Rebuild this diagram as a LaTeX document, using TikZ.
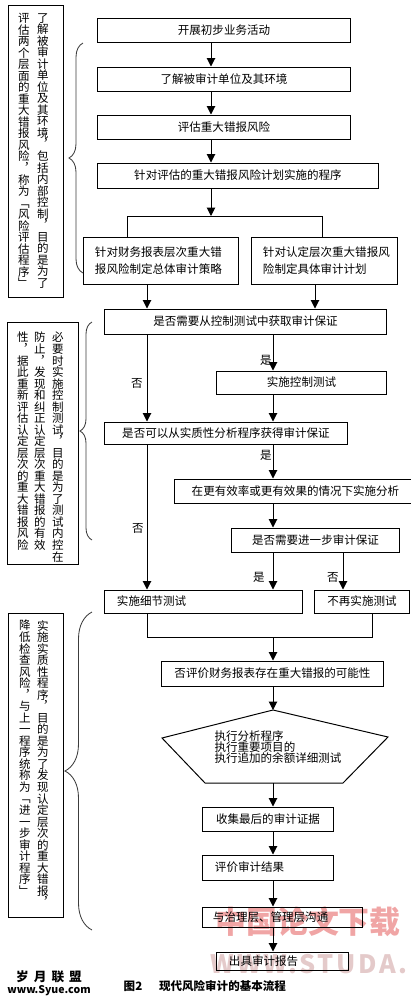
\documentclass[tikz,border=0pt]{standalone}
\usepackage{fontspec}
\setmainfont{Noto Sans CJK SC}
\newfontfamily\vcn[Script=CJK, RawFeature=+vert]{Noto Sans CJK SC}
\usetikzlibrary{arrows.meta, decorations.pathreplacing}
\definecolor{markpink}{RGB}{240,165,165}
\definecolor{markgray}{RGB}{228,202,202}
\definecolor{bracegray}{RGB}{60,60,60}
% one character per line, for the vertical notes
\newcommand\vcolend{}
\newcommand\vcol[1]{\vcolfirst#1\vcolend}
\def\vcolfirst#1{#1\vcolrest}
\def\vcolrest#1{\ifx#1\vcolend\else\\#1\expandafter\vcolrest\fi}

\begin{document}
\begin{tikzpicture}[
        x=0.025cm, y=-0.025cm,
        box/.style={draw, line width=0.7pt, inner sep=0pt, align=center, font=\fontsize{8.2}{12}\selectfont, minimum height=0.6cm},
        lbox/.style={box, align=left, inner xsep=0.3cm},
        arrow/.style={-{Triangle[length=6pt,width=6pt]}, line width=0.7pt},
        line/.style={line width=0.7pt},
        lab/.style={inner sep=0pt, font=\fontsize{8.2}{10}\selectfont},
        vcolumn/.style={anchor=north, inner sep=0pt, align=center, font=\vcn\fontsize{8.2}{8.2}\selectfont},
        curly/.style={decorate, decoration={brace, amplitude=#1}, line width=0.6pt, bracegray}
    ]
        \useasboundingbox (0,0) rectangle (410,1001);

        % watermark
        \node[text=markpink, font=\fontsize{22}{24}\bfseries] (wm1) at (308,922) {中国论文下载};
        \node[text=markgray, font=\fontsize{18}{20}\bfseries\addfontfeatures{LetterSpace=10}] (wm2) at (309,964) {WWW.STUDA.};

        % main flow
        \node[box, minimum width=6.3cm] (n1) at (224,30) {开展初步业务活动};
        \node[box, minimum width=6.3cm] (n2) at (224,79) {了解被审计单位及其环境};
        \node[box, minimum width=6.3cm] (n3) at (224,127) {评估重大错报风险};
        \node[box, minimum width=7cm, minimum height=0.625cm] (n4) at (238,175.5) {针对评估的重大错报风险计划实施的程序};
        \node[lbox, text width=3.3cm, minimum height=1.175cm, inner xsep=0.275cm] (n5) at (161,260.5) {针对财务报表层次重大错\\报风险制定总体审计策略};
        \node[lbox, text width=3.075cm, minimum height=1.175cm, inner xsep=0.275cm] (n6) at (324.5,260.5) {针对认定层次重大错报风\\险制定具体审计计划};
        \node[box, minimum width=7.025cm, minimum height=0.625cm] (n7) at (245.5,321.5) {是否需要从控制测试中获取审计保证};
        \node[box, minimum width=4.225cm, minimum height=0.575cm] (n8) at (301.5,382.5) {实施控制测试};
        \node[box, minimum width=6.05cm, minimum height=0.55cm] (n9) at (226,433) {是否可以从实质性分析程序获得审计保证};
        \node[box, minimum width=6.025cm] (n10) at (295.5,491) {在更有效率或更有效果的情况下实施分析};
        \node[box, minimum width=4.175cm] (n11) at (315.5,540) {是否需要进一步审计保证};
        \node[lbox, text width=4.325cm, minimum height=0.575cm] (n12) at (203.5,601.5) {实施细节测试};
        \node[box, minimum width=2.35cm, minimum height=0.575cm] (n13) at (362,601.5) {不再实施测试};
        \node[box, minimum width=5.525cm, minimum height=0.625cm] (n14) at (272.5,673.5) {否评价财务报表存在重大错报的可能性};

        \coordinate (p1) at (273,710);
        \coordinate (p0) at (273,783);
        \draw[line] (p1) -- (162,738) -- (205,783) -- (343,783) -- (388,737) -- cycle;
        \node[lab, align=left, font=\fontsize{8.2}{8}\selectfont] (n15) at (278,747) {执行分析程序\\执行重要项目的\\执行追加的余额详细测试};

        \node[box, minimum width=3.25cm] (n16) at (268,819) {收集最后的审计证据};
        \node[lbox, text width=2.65cm, minimum height=0.625cm] (n17) at (268,867.5) {评价审计结果};
        \node[lbox, text width=3.475cm, inner xsep=0.25cm, minimum height=0.5cm] (n18) at (282.5,917) {与治理层、管理层沟通};
        \node[lbox, text width=2.675cm, minimum height=0.45cm] (n19) at (282.5,961) {出具审计报告};

        % connectors
        \coordinate (top) at (211,0);
        \coordinate (colL) at (147,0);
        \coordinate (colM) at (273,0);
        \coordinate (colR) at (315,0);
        \coordinate (colN) at (343,0);
        \coordinate (spL) at (127,216);
        \coordinate (spR) at (322,216);
        \coordinate (mL) at (147,637);
        \coordinate (mR) at (372,637);

        \draw[arrow] (n1.south -| top) -- (n2.north -| top);
        \draw[arrow] (n2.south -| top) -- (n3.north -| top);
        \draw[arrow] (n3.south -| top) -- (n4.north -| top);
        \draw[arrow] (n4.south -| top) -- (spL -| top);
        \draw[line] (n5.north -| spL) -- (spL) -- (spR) -- (n6.north -| spR);
        \draw[arrow] (n5.south -| colL) -- (n7.north -| colL);
        \draw[arrow] (n6.south -| colR) -- (n7.north -| colR);
        \draw[arrow] (n7.south -| colL) -- (n9.north -| colL);
        \draw[arrow] (n7.south -| colM) -- (n8.north -| colM);
        \draw[arrow] (n8.south -| colM) -- (n9.north -| colM);
        \draw[arrow] (n9.south -| colL) -- (n12.north -| colL);
        \draw[arrow] (n9.south -| colM) -- (n10.north -| colM);
        \draw[arrow] (n10.south -| colM) -- (n11.north -| colM);
        \draw[arrow] (n11.south -| colM) -- (n12.north -| colM);
        \draw[arrow] (n11.south -| colN) -- (n13.north -| colN);
        \draw[line] (n12.south -| colL) -- (mL) -- (mR) -- (n13.south -| mR);
        \draw[arrow] (mL -| colM) -- (n14.north -| colM);
        \draw[arrow] (n14.south -| colM) -- (p1);
        \draw[arrow] (p0) -- (n16.north -| colM);
        \draw[arrow] (n16.south -| colM) -- (n17.north -| colM);
        \draw[arrow] (n17.south -| colM) -- (n18.north -| colM);
        \draw[arrow] (n18.south -| colM) -- (n19.north -| colM);

        \node[lab] (l1) at (266,360) {是};
        \node[lab] (l2) at (137,383) {否};
        \node[lab] (l3) at (266,455) {是};
        \node[lab] (l4) at (138,528) {否};
        \node[lab] (l5) at (259,577) {是};
        \node[lab] (l6) at (333,577) {否};

        % left notes
        \draw[line] (8,5) rectangle (63,297);
        \node[vcolumn] (t1a) at (43,13) {\vcol{了解被审计单位及其环境，包括内部控制，目的是为了}};
        \node[vcolumn] (t1b) at (24,13) {\vcol{评估两个层面的重大错报风险，称为「风险评估程序」}};
        \draw[curly=0.35cm] (83,273) -- (83,43);

        \draw[line] (7,322) rectangle (78,564);
        \node[vcolumn] (t2a) at (58,332) {\vcol{必要时实施控制测试，目的是为了测试内控在}};
        \node[vcolumn] (t2b) at (40,332) {\vcol{防止，发现和纠正认定层次重大错报的有效}};
        \node[vcolumn] (t2c) at (23,332) {\vcol{性，据此重新评估认定层次的重大错报风险}};
        \draw[curly=0.3cm] (92,540) -- (92,322);

        \draw[line] (8,613) rectangle (63,917);
        \node[vcolumn] (t3a) at (43,620) {\vcol{实施实质性程序，目的是为了发现认定层次的重大错报，}};
        \node[vcolumn] (t3b) at (25,620) {\vcol{降低检查风险，与上一程序统称为「进一步审计程序」}};
        \draw[curly=0.675cm] (92,930) -- (92,612);

        % caption
        \node[lab, font=\fontsize{8.2}{10}\bfseries] (c1) at (133,986) {图2};
        \node[lab, font=\fontsize{8.2}{10}\bfseries] (c2) at (222.5,986) {现代风险审计的基本流程};
        \node[lab, font=\fontsize{9}{10}\bfseries] (s1) at (49,977) {岁\hspace{0.4em}月\hspace{0.4em}联\hspace{0.4em}盟};
        \node[lab, font=\fontsize{7.5}{8}\bfseries] (s2) at (49,991) {www.Syue.com};
    \end{tikzpicture}
\end{document}
